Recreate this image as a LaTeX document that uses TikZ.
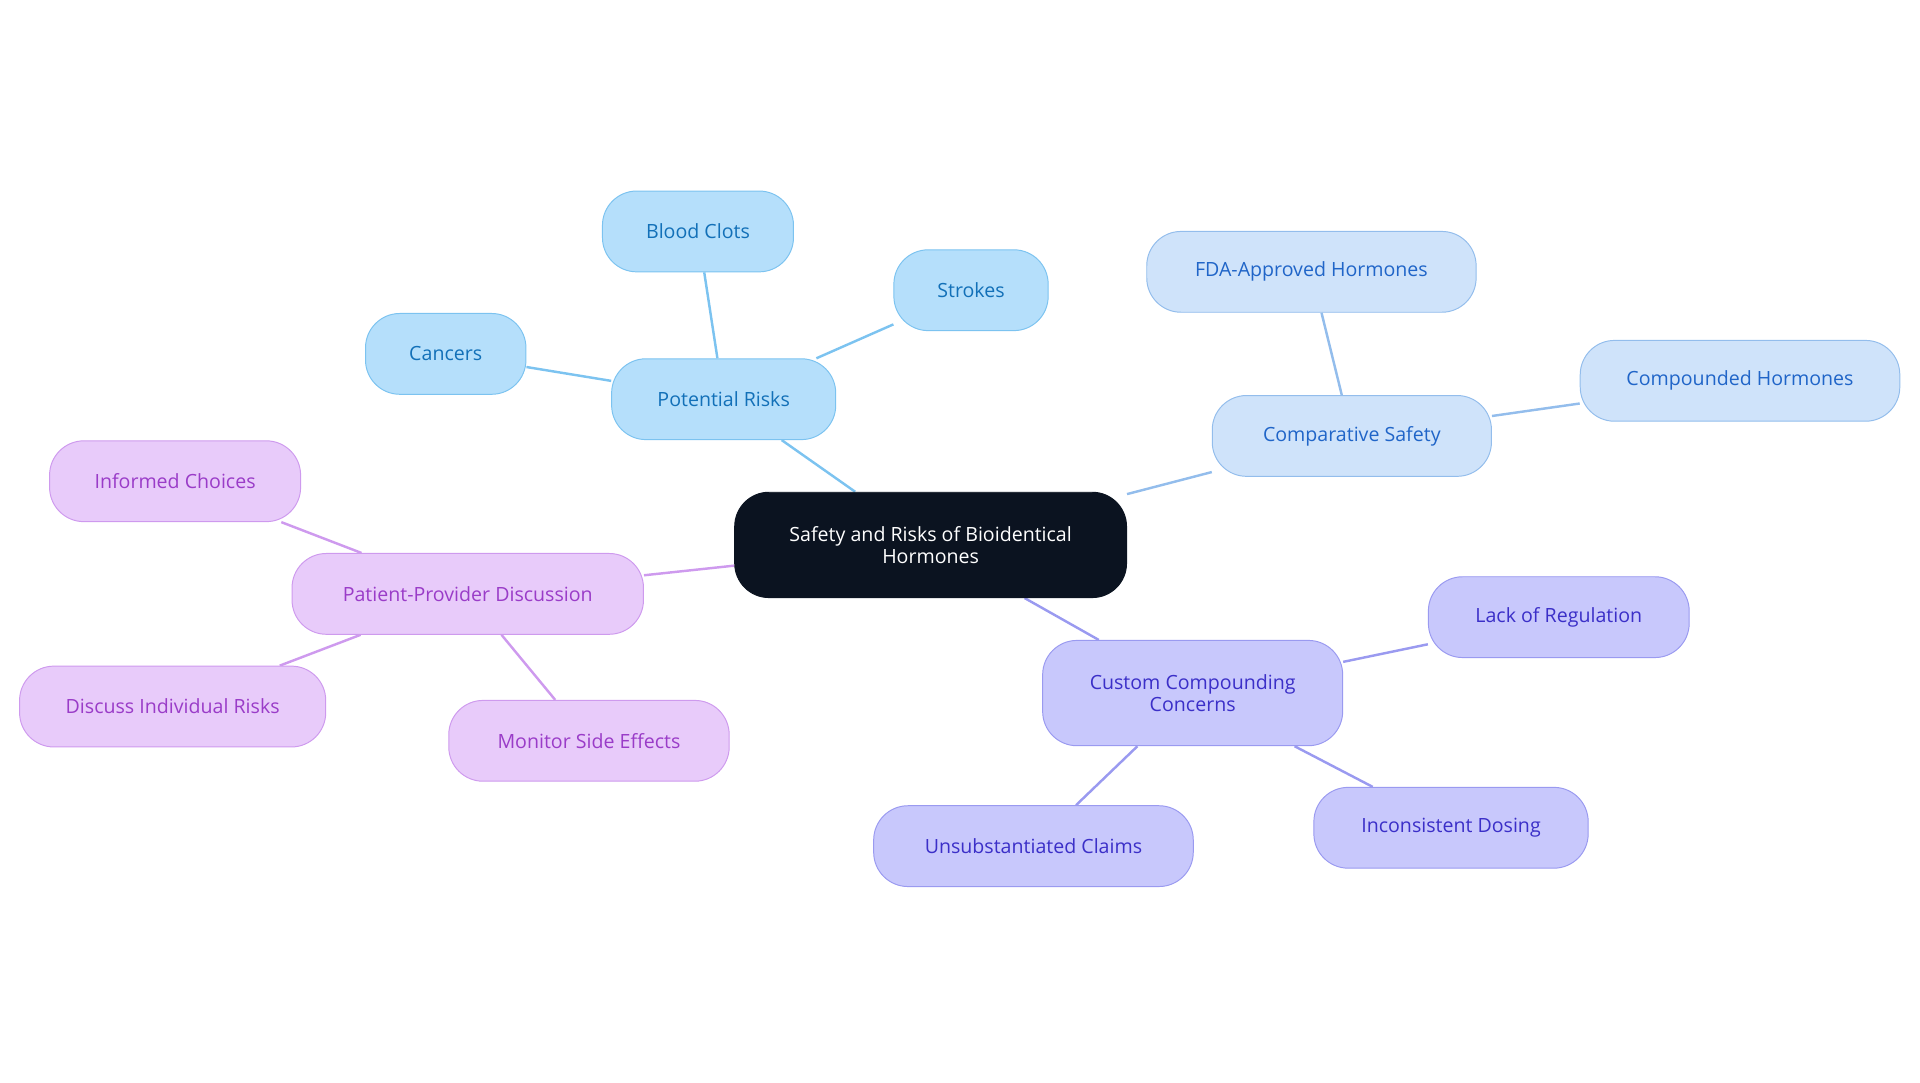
\documentclass[tikz,border=0pt]{standalone}
\usepackage{fontspec}
\setmainfont{Open Sans}
\usetikzlibrary{backgrounds}
\definecolor{cfill}{HTML}{0B1320}
\definecolor{bfill}{HTML}{B5DFFB}\definecolor{bdraw}{HTML}{7CC3F0}\definecolor{btext}{HTML}{1270B8}
\definecolor{lfill}{HTML}{CFE3FA}\definecolor{ldraw}{HTML}{93BDEC}\definecolor{ltext}{HTML}{2065C8}
\definecolor{vfill}{HTML}{C8C8FC}\definecolor{vdraw}{HTML}{9A9AF0}\definecolor{vtext}{HTML}{3B2FC8}
\definecolor{pfill}{HTML}{E8CBFA}\definecolor{pdraw}{HTML}{CE9AEE}\definecolor{ptext}{HTML}{9A3CC8}
\tikzset{
 box/.style={rounded corners=28pt,minimum height=66pt,inner sep=0pt,align=center,font=\fontsize{16}{18}\selectfont,line width=0.8pt},
 bbox/.style={box,fill=bfill,draw=bdraw,text=btext},
 lbox/.style={box,fill=lfill,draw=ldraw,text=ltext},
 vbox/.style={box,fill=vfill,draw=vdraw,text=vtext},
 pbox/.style={box,fill=pfill,draw=pdraw,text=ptext},
 bl/.style={draw=bdraw,line width=2pt},
 ll/.style={draw=ldraw,line width=2pt},
 vl/.style={draw=vdraw,line width=2pt},
 pl/.style={draw=pdraw,line width=2pt},
}
\begin{document}
\begin{tikzpicture}[x=1pt,y=-1pt]
\useasboundingbox (0,0) rectangle (1568,884);
\node[box,fill=cfill,draw=cfill,text=white,minimum width=320pt,minimum height=86pt] (c) at (760,445) {Safety and Risks of Bioidentical\\Hormones};
\node[bbox,minimum width=183pt] (pr) at (591,326) {Potential Risks};
\node[bbox,minimum width=156pt] (bc) at (570,189) {Blood Clots};
\node[bbox,minimum width=126pt] (st) at (793,237) {Strokes};
\node[bbox,minimum width=131pt] (ca) at (364,289) {Cancers};
\node[lbox,minimum width=228pt] (cs) at (1104,356) {Comparative Safety};
\node[lbox,minimum width=269pt] (fda) at (1071,222) {FDA-Approved Hormones};
\node[lbox,minimum width=261pt] (ch) at (1421,311) {Compounded Hormones};
\node[vbox,minimum width=245pt,minimum height=86pt] (cc) at (974,566) {Custom Compounding\\Concerns};
\node[vbox,minimum width=213pt] (lr) at (1273,504) {Lack of Regulation};
\node[vbox,minimum width=224pt] (id) at (1185,676) {Inconsistent Dosing};
\node[vbox,minimum width=261pt] (uc) at (844,691) {Unsubstantiated Claims};
\node[pbox,minimum width=287pt] (pp) at (382,485) {Patient-Provider Discussion};
\node[pbox,minimum width=205pt] (ic) at (143,393) {Informed Choices};
\node[pbox,minimum width=250pt] (di) at (141,577) {Discuss Individual Risks};
\node[pbox,minimum width=229pt] (ms) at (481,605) {Monitor Side Effects};
\begin{scope}[on background layer]
\draw[bl] (c) -- (pr); \draw[bl] (pr) -- (bc); \draw[bl] (pr) -- (st); \draw[bl] (pr) -- (ca);
\draw[ll] (c) -- (cs); \draw[ll] (cs) -- (fda); \draw[ll] (cs) -- (ch);
\draw[vl] (c) -- (cc); \draw[vl] (cc) -- (lr); \draw[vl] (cc) -- (id); \draw[vl] (cc) -- (uc);
\draw[pl] (c) -- (pp); \draw[pl] (pp) -- (ic); \draw[pl] (pp) -- (di); \draw[pl] (pp) -- (ms);
\end{scope}
\end{tikzpicture}
\end{document}
